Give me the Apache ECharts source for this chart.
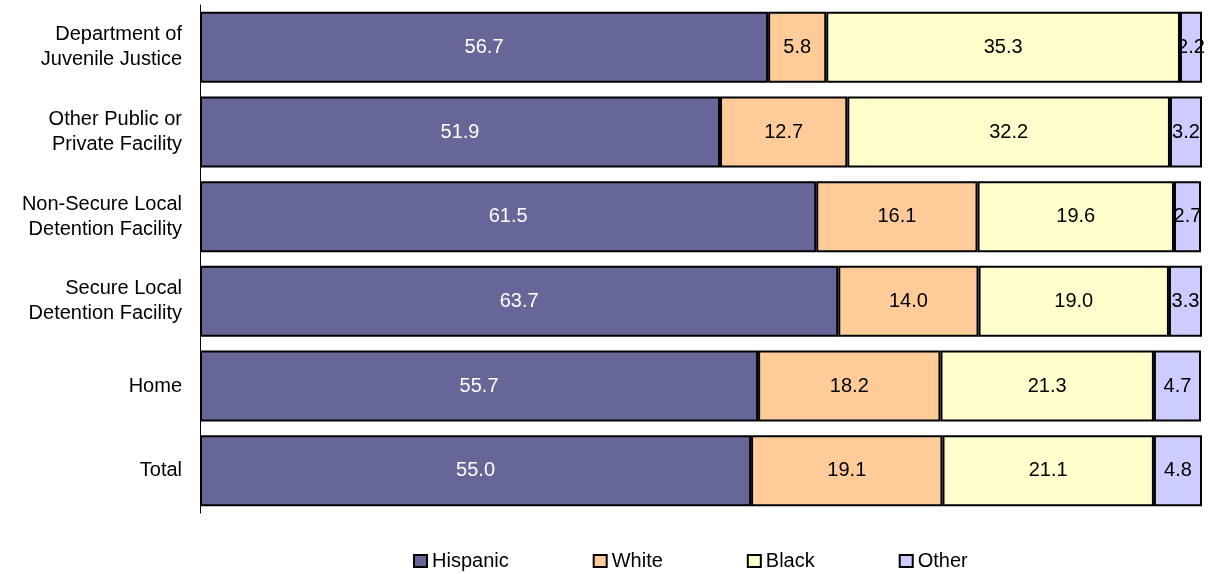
<!DOCTYPE html>
<html>
<head>
<meta charset="utf-8">
<script src="https://cdn.jsdelivr.net/npm/echarts@6/dist/echarts.min.js"></script>
<style>
  html, body { margin: 0; padding: 0; background: #fff; }
  #chart { width: 1208px; height: 574px; }
</style>
</head>
<body>
<div id="chart"></div>
<script>
// Placement categories, top to bottom
const categories = [
  'Department of\nJuvenile Justice',
  'Other Public or\nPrivate Facility',
  'Non-Secure Local\nDetention Facility',
  'Secure Local\nDetention Facility',
  'Home',
  'Total'
];

// Percent of youth by race/ethnicity in each placement
const hispanic = [56.7, 51.9, 61.5, 63.7, 55.7, 55.0];
const white    = [5.8, 12.7, 16.1, 14.0, 18.2, 19.1];
const black    = [35.3, 32.2, 19.6, 19.0, 21.3, 21.1];
const other    = [2.2, 3.2, 2.7, 3.3, 4.7, 4.8];

const seriesNames  = ['Hispanic', 'White', 'Black', 'Other'];
const seriesValues = [hispanic, white, black, other];
const seriesColors = ['#666699', '#FFCC99', '#FFFFCC', '#CCCCFF'];
const labelColors  = ['#ffffff', '#000000', '#000000', '#000000'];

const FONT = '"Liberation Sans", Arial, sans-serif';
const FS = 20;

const chart = echarts.init(document.getElementById('chart'), null, { renderer: 'canvas' });

chart.setOption({
  animation: false,
  backgroundColor: '#ffffff',
  textStyle: { fontFamily: FONT },
  grid: { left: 200, right: 6, top: 5, bottom: 61, containLabel: false },
  xAxis: {
    type: 'value',
    min: 0,
    max: 100,
    show: false
  },
  yAxis: {
    type: 'category',
    data: categories,
    inverse: true,
    axisLine: { show: true, lineStyle: { color: '#000', width: 1 } },
    axisTick: { show: false },
    axisLabel: {
      color: '#000',
      fontFamily: FONT,
      fontSize: FS,
      lineHeight: 25,
      margin: 18,
      align: 'right'
    },
    splitLine: { show: false }
  },
  legend: {
    data: seriesNames,
    left: 413,
    top: 551,
    padding: 0,
    itemGap: 84,
    itemWidth: 13,
    itemHeight: 12,
    icon: 'rect',
    itemStyle: { borderColor: '#000', borderWidth: 2 },
    textStyle: { color: '#000', fontFamily: FONT, fontSize: FS, padding: [0, 0, 0, 0] }
  },
  series: seriesNames.map((name, i) => ({
    name: name,
    type: 'bar',
    stack: 'total',
    barWidth: 71,
    data: seriesValues[i],
    itemStyle: { color: seriesColors[i], borderColor: '#000', borderWidth: 2 },
    label: {
      show: true,
      position: 'inside',
      color: labelColors[i],
      fontFamily: FONT,
      fontSize: FS,
      formatter: p => p.value.toFixed(1)
    },
    emphasis: { disabled: true }
  }))
});
</script>
</body>
</html>
